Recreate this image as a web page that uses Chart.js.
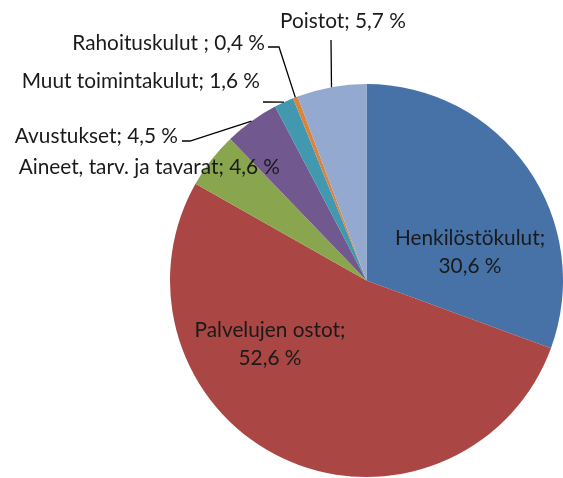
<!DOCTYPE html>
<html>
<head>
<meta charset="utf-8">
<script src="https://cdn.jsdelivr.net/npm/chart.js@4.4.1/dist/chart.umd.min.js"></script>
<style>
    html, body { margin: 0; padding: 0; background: #ffffff; }
    #costChart { display: block; }
</style>
</head>
<body>
<canvas id="costChart" width="563" height="478"></canvas>
<script>
// ===========================
// Data
// ===========================

const categories = [
    'Henkilöstökulut',
    'Palvelujen ostot',
    'Aineet, tarv. ja tavarat',
    'Avustukset',
    'Muut toimintakulut',
    'Rahoituskulut ',
    'Poistot'
];

const shares = [30.6, 52.6, 4.6, 4.5, 1.6, 0.4, 5.7];

const sliceColors = [
    '#4672A8',
    '#AA4643',
    '#89A54E',
    '#71588F',
    '#4198AF',
    '#DB843D',
    '#93A9CF'
];

// ===========================
// Label placement (pixels)
// ===========================

const LABEL_FONT = '20.8px Lato, "Open Sans", sans-serif';
const LABEL_COLOR = '#1a1a1a';

// inside: centred text; outside: text anchored at its right/centre with leader from slice edge through elbow points
const labelLayout = [
    { kind: 'inside', x: 470, y: 252, lineGap: 28 },
    { kind: 'inside', x: 270, y: 344, lineGap: 28 },
    { kind: 'outside', x: 280, y: 167, align: 'right', leader: null },
    { kind: 'outside', x: 178, y: 136, align: 'right', leader: [[190, 141], [182, 141]] },
    { kind: 'outside', x: 260, y: 81, align: 'right', leader: [[263, 102]] },
    { kind: 'outside', x: 265, y: 43, align: 'right', leader: [[279, 47], [268, 47]] },
    { kind: 'outside', x: 343, y: 21, align: 'center', leader: [[331, 40]] }
];

function formatShare(v) {
    return v.toFixed(1).replace('.', ',') + ' %';
}

const sliceLabels = {
    id: 'sliceLabels',
    afterDatasetsDraw(chart) {
        const ctx = chart.ctx;
        const arcs = chart.getDatasetMeta(0).data;

        ctx.save();
        ctx.font = LABEL_FONT;
        ctx.fillStyle = LABEL_COLOR;
        ctx.strokeStyle = '#000000';
        ctx.lineWidth = 1.3;
        ctx.textBaseline = 'middle';

        arcs.forEach((arc, i) => {
            const layout = labelLayout[i];
            const name = categories[i];
            const value = formatShare(shares[i]);

            if (layout.kind === 'inside') {
                ctx.textAlign = 'center';
                ctx.fillText(name + ';', layout.x, layout.y - layout.lineGap / 2);
                ctx.fillText(value, layout.x, layout.y + layout.lineGap / 2);
                return;
            }

            if (layout.leader) {
                const p = arc.getProps(['x', 'y', 'startAngle', 'endAngle', 'outerRadius'], true);
                const mid = (p.startAngle + p.endAngle) / 2;
                const ex = p.x + Math.cos(mid) * p.outerRadius;
                const ey = p.y + Math.sin(mid) * p.outerRadius;

                ctx.beginPath();
                ctx.moveTo(ex, ey);
                layout.leader.forEach(([lx, ly]) => ctx.lineTo(lx, ly));
                ctx.stroke();
            }

            ctx.textAlign = layout.align;
            ctx.fillText(name + '; ' + value, layout.x, layout.y);
        });

        ctx.restore();
    }
};

// ===========================
// Chart
// ===========================

new Chart(document.getElementById('costChart'), {
    type: 'pie',
    data: {
        labels: categories,
        datasets: [{
            data: shares,
            backgroundColor: sliceColors,
            borderWidth: 0,
            offset: 0,
            hoverOffset: 0
        }]
    },
    options: {
        responsive: false,
        animation: false,
        layout: {
            padding: { left: 170, right: 0, top: 84, bottom: 1 }
        },
        plugins: {
            legend: { display: false },
            tooltip: { enabled: false }
        }
    },
    plugins: [sliceLabels]
});
</script>
</body>
</html>
